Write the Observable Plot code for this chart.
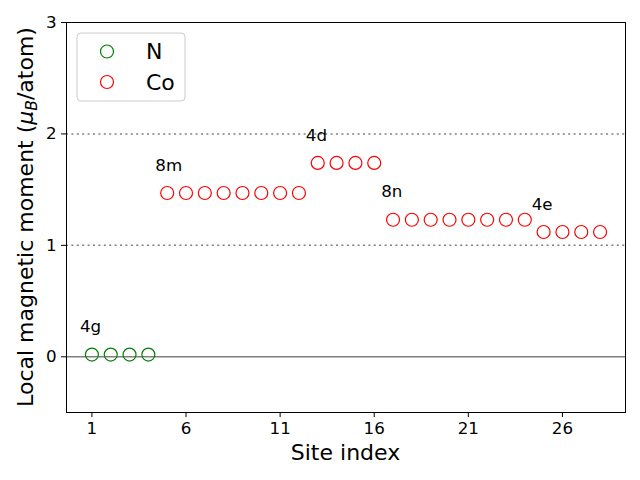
<!DOCTYPE html>
<html>
<head>
<meta charset="utf-8">
<script src="https://cdn.jsdelivr.net/npm/d3@7"></script>
<script src="https://cdn.jsdelivr.net/npm/@observablehq/plot@0.6"></script>
<style>
  html, body { margin: 0; padding: 0; background: white; }
  #chart { width: 640px; height: 480px; }
</style>
</head>
<body>
<div id="chart"></div>
<script>
// Data
const nSites = [1, 2, 3, 4];
const nMoments = [0.02, 0.02, 0.02, 0.02];
const coSites = [5, 6, 7, 8, 9, 10, 11, 12, 13, 14, 15, 16, 17, 18, 19, 20, 21, 22, 23, 24, 25, 26, 27, 28];
const coMoments = [1.47, 1.47, 1.47, 1.47, 1.47, 1.47, 1.47, 1.47,
                   1.74, 1.74, 1.74, 1.74,
                   1.23, 1.23, 1.23, 1.23, 1.23, 1.23, 1.23, 1.23,
                   1.12, 1.12, 1.12, 1.12];
const wyckoffLabels = ["4g", "8m", "4d", "8n", "4e"];
const wyckoffStart = [1, 5, 13, 17, 25];
const wyckoffMoment = [0.02, 1.47, 1.74, 1.23, 1.12];
const xTicks = [1, 6, 11, 16, 21, 26];
const yTicks = [0, 1, 2, 3];
const seriesNames = ["N", "Co"];
const seriesColors = ["#008000", "#ff0000"];

const points = [
  ...nSites.map((s, i) => ({site: s, moment: nMoments[i], element: "N"})),
  ...coSites.map((s, i) => ({site: s, moment: coMoments[i], element: "Co"}))
];
const labels = wyckoffLabels.map((t, i) => ({text: t, x: wyckoffStart[i] - 0.5, y: wyckoffMoment[i] + 0.2}));

const W = 640, H = 480, mL = 66, mR = 15, mT = 22, mB = 68;

const chart = Plot.plot({
  width: W, height: H,
  marginLeft: mL, marginRight: mR, marginTop: mT, marginBottom: mB,
  style: {fontFamily: "DejaVu Sans", fontSize: "16.7px", color: "black", background: "white", overflow: "visible"},
  x: {domain: [-0.35, 29.35]},
  y: {domain: [-0.5, 3]},
  color: {domain: seriesNames, range: seriesColors},
  marks: [
    Plot.ruleY([1, 2], {stroke: "#808080", strokeWidth: 1.5, strokeDasharray: "2,3.4"}),
    Plot.ruleY([0], {stroke: "#808080", strokeWidth: 1.5}),
    Plot.dot(points, {x: "site", y: "moment", stroke: "element", r: 6.5, strokeWidth: 1.2, fill: "none"}),
    Plot.text(labels, {x: "x", y: "y", text: "text", textAnchor: "start", lineAnchor: "bottom", dx: -2.5, fontSize: 16.7, fill: "black"}),
    Plot.frame({stroke: "black", strokeWidth: 1}),
    Plot.axisX({ticks: xTicks, tickSize: 5, tickPadding: 5, label: null, fontSize: 16.7}),
    Plot.axisY({ticks: yTicks, tickSize: 5, tickPadding: 5, label: null, fontSize: 16.7, tickFormat: d => String(d)})
  ]
});

document.getElementById("chart").appendChild(chart);

const svg = d3.select(chart);
// X axis label
svg.append("text")
  .attr("x", mL + (W - mL - mR) / 2)
  .attr("y", 460)
  .attr("text-anchor", "middle")
  .attr("font-family", "DejaVu Sans")
  .attr("font-size", 22)
  .attr("fill", "black")
  .text("Site index");

// Y axis label with subscript
const yl = svg.append("text")
  .attr("transform", `translate(33,${mT + (H - mT - mB) / 2}) rotate(-90)`)
  .attr("text-anchor", "middle")
  .attr("font-family", "DejaVu Sans")
  .attr("font-size", 22)
  .attr("fill", "black");
yl.append("tspan").text("Local magnetic moment (");
yl.append("tspan").attr("font-style", "italic").text("μ");
yl.append("tspan").attr("font-style", "italic").attr("font-size", 15.5).attr("dy", 4).text("B");
yl.append("tspan").attr("dy", -4).text("/atom)");

// Legend
const lg = svg.append("g");
lg.append("rect")
  .attr("x", 77).attr("y", 33).attr("width", 108).attr("height", 68)
  .attr("rx", 4)
  .attr("fill", "white").attr("fill-opacity", 0.8)
  .attr("stroke", "#cccccc").attr("stroke-width", 1);
seriesNames.forEach((name, i) => {
  const cy = 51.5 + i * 30.5;
  lg.append("circle").attr("cx", 107).attr("cy", cy).attr("r", 6.5)
    .attr("fill", "none").attr("stroke", seriesColors[i]).attr("stroke-width", 1.2);
  lg.append("text").attr("x", 146).attr("y", cy + 7.5)
    .attr("text-anchor", "start")
    .attr("font-family", "DejaVu Sans").attr("font-size", 22).attr("fill", "black")
    .text(name);
});
</script>
</body>
</html>
